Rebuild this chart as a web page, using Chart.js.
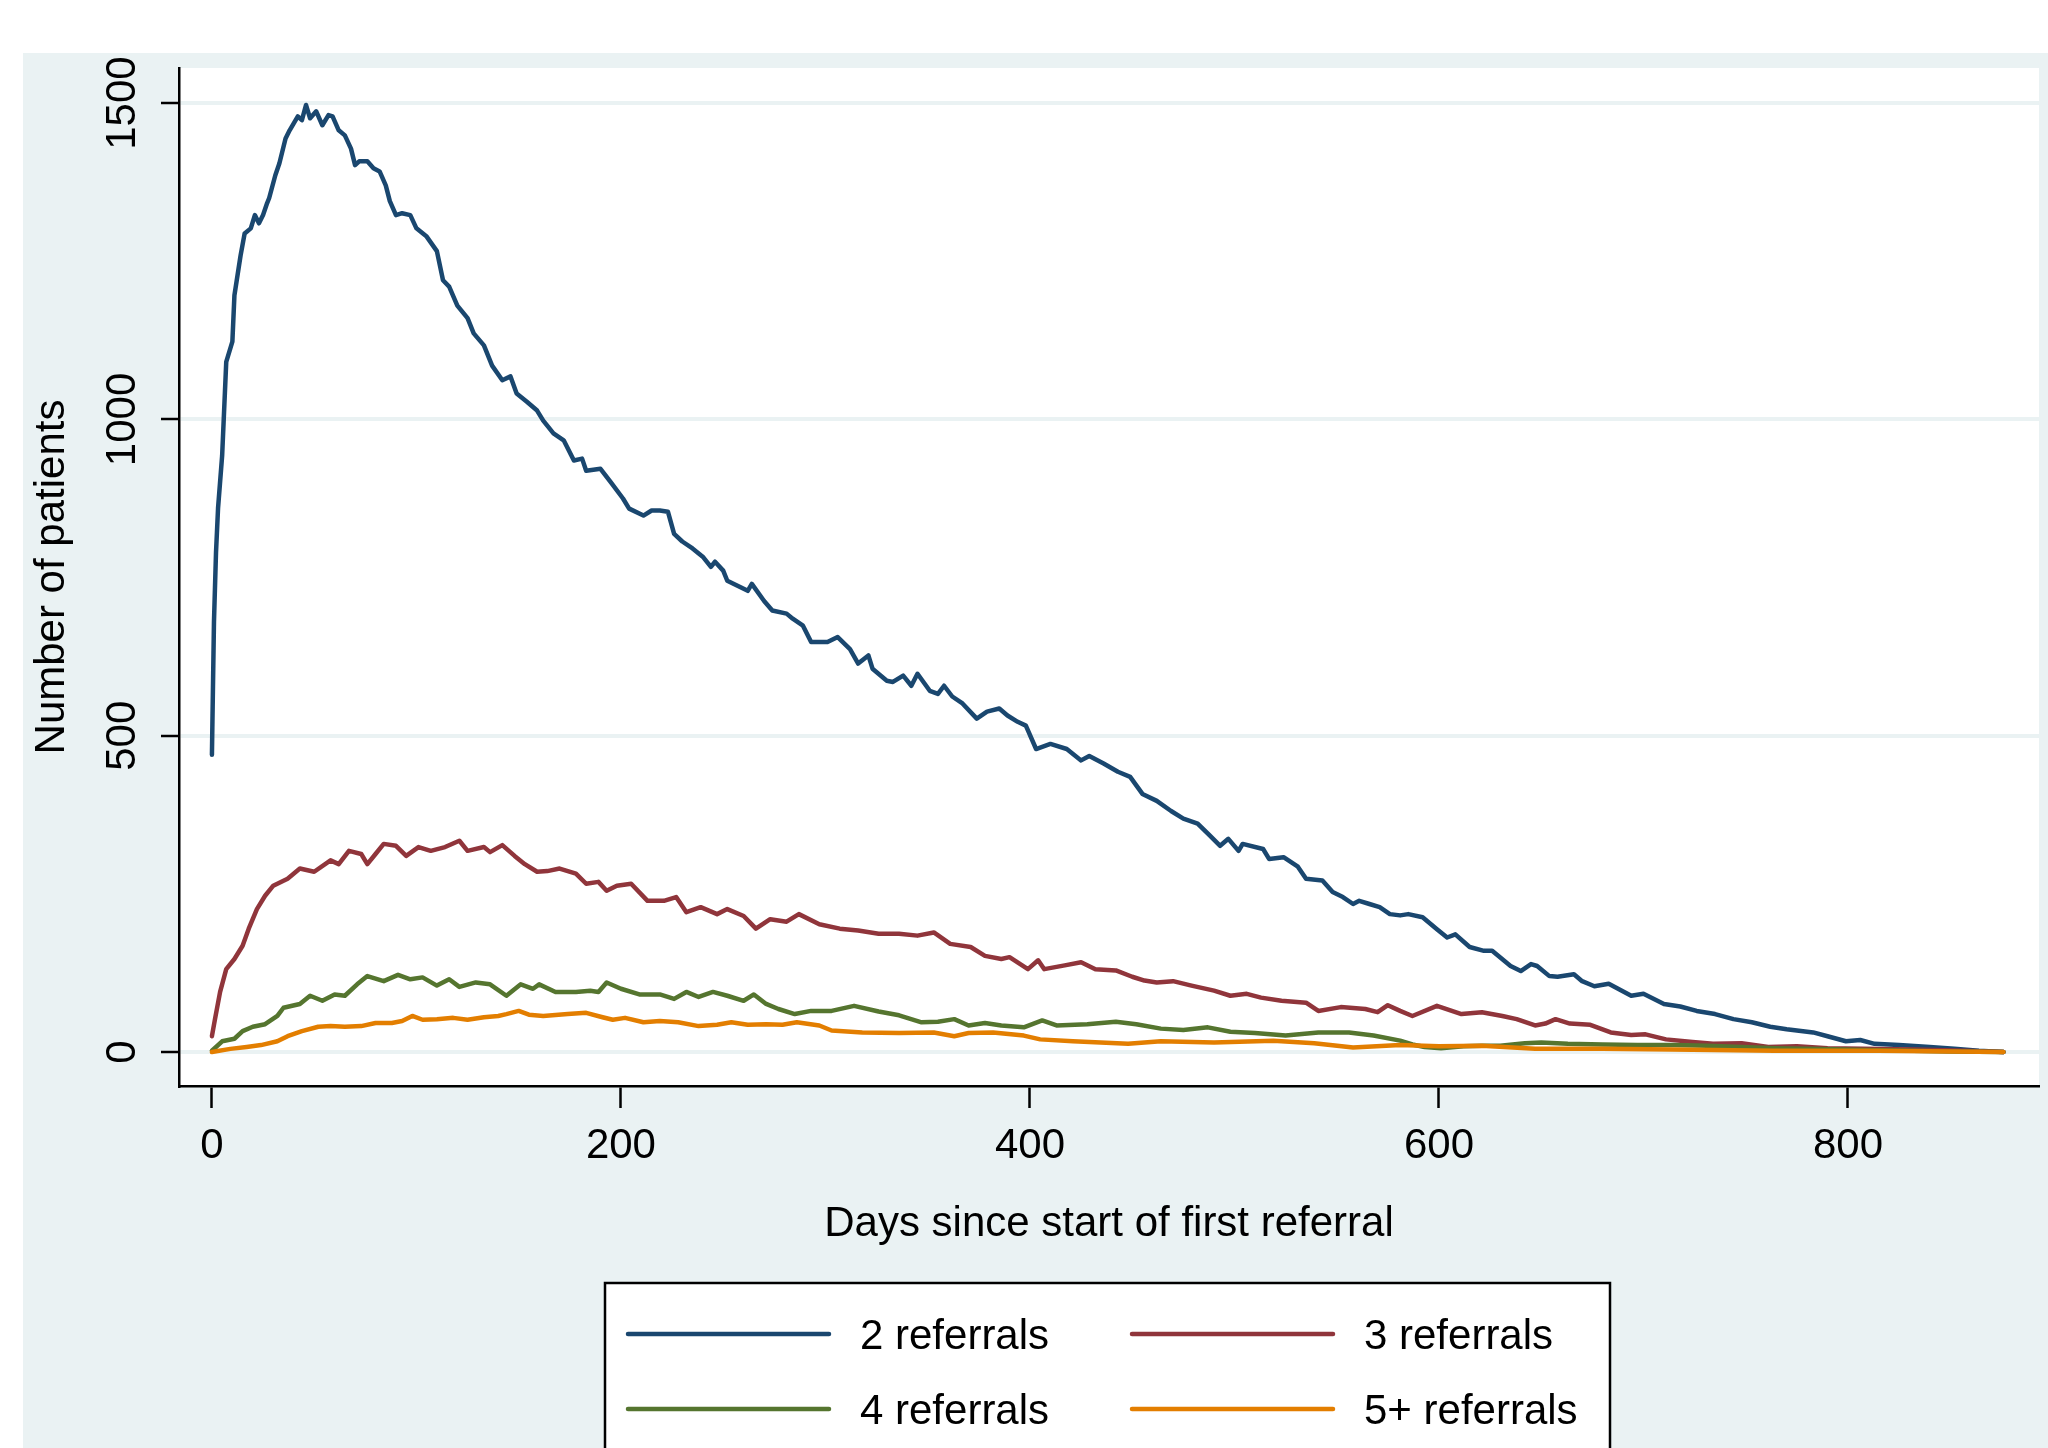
<!DOCTYPE html>
<html><head><meta charset="utf-8">
<script src="https://cdn.jsdelivr.net/npm/chart.js@4/dist/chart.umd.min.js"></script>
<style>html,body{margin:0;padding:0;background:#fff;}canvas{display:block;}</style>
</head><body>
<canvas id="c" width="2048" height="1448"></canvas>
<script>
// ---- data ----
const seriesLabels = ['2 referrals', '3 referrals', '4 referrals', '5+ referrals'];
const xTickValues = [0, 200, 400, 600, 800];
const yTickValues = [0, 500, 1000, 1500];
const xAxisTitle = 'Days since start of first referral';
const yAxisTitle = 'Number of patients';

const days2 = [0,1,2,3,5,7,10,11,14,16,19,21,23,25,27,28,31,33,36,38,42,44,46,48,51,54,57,59,62,65,68,70,72,76,79,82,85,87,90,93,97,100,105,110,113,116,120,125,128,133,137,142,146,149,154,159,162,167,172,177,181,183,190,195,201,204,211,215,219,223,226,230,235,240,244,246,250,252,257,262,264,270,274,281,284,289,293,301,306,312,316,321,323,330,333,338,342,345,351,355,358,362,367,374,379,385,389,394,398,403,410,418,425,429,436,443,449,455,462,469,475,482,488,493,497,502,504,514,517,524,531,535,543,548,553,558,561,566,571,576,581,585,592,599,604,608,615,622,626,635,640,645,648,654,658,666,670,676,683,694,700,710,718,726,735,744,753,762,770,783,790,799,806,813,825,840,852,864,876];
const patients2 = [470,680,790,860,943,1091,1123,1196,1259,1294,1302,1323,1310,1323,1342,1350,1386,1405,1444,1457,1479,1473,1497,1476,1487,1465,1481,1479,1457,1449,1428,1402,1408,1408,1397,1392,1370,1345,1323,1326,1323,1302,1289,1266,1220,1210,1180,1160,1136,1117,1085,1062,1068,1041,1028,1014,998,978,967,935,938,919,922,901,875,859,848,856,856,854,819,807,796,783,767,775,761,745,737,729,740,713,698,693,685,674,648,648,656,637,614,627,606,587,585,595,579,598,571,566,579,562,551,527,538,543,532,522,516,479,487,479,461,468,456,443,435,408,397,381,369,361,342,326,337,318,329,321,305,308,293,274,271,253,245,234,239,234,229,218,216,218,213,194,181,186,166,160,160,136,128,139,136,120,119,123,112,104,108,89,92,76,72,65,60,52,47,40,36,31,25,17,19,13,11,8,5,2,0];

const days3 = [0,1.5,4,7,11,15,18,22,26,30,37,43,50,58,62,67,73,76,80,84,90,95,101,107,114,121,125,133,136,142,148,153,159,164,170,178,183,189,193,198,205,213,221,227,232,239,247,252,260,266,273,281,287,297,307,316,326,336,345,353,361,371,378,386,390,399,404,407,417,425,432,442,450,456,462,470,479,490,498,506,513,523,535,541,552,564,570,575,581,587,599,611,621,631,638,647,652,657,664,674,684,694,701,711,724,734,748,761,775,790,807,832,857,876];
const patients3 = [25,52,95,131,147,168,195,226,247,263,274,290,285,303,297,318,313,297,313,329,326,310,324,318,324,334,318,324,316,327,310,297,285,286,290,282,266,269,255,263,266,239,239,245,221,229,218,226,215,195,210,206,218,202,195,192,187,187,184,189,171,166,152,147,150,131,145,131,137,142,131,129,119,113,110,112,105,97,89,92,86,81,78,65,71,68,63,74,65,57,73,60,63,57,52,42,45,52,45,43,31,27,28,20,16,13,14,8,9,6,5,4,2,0];

const days4 = [0,5,11,15,20,26,32,35,43,48,54,60,65,71,76,84,91,97,103,110,116,121,129,136,144,151,157,160,168,178,185,189,193,200,209,219,226,232,238,245,252,260,265,271,277,285,293,303,314,326,336,347,355,363,370,378,386,397,406,413,428,442,452,464,475,487,498,510,525,541,556,568,581,587,593,601,612,621,630,642,650,663,680,697,715,731,748,764,780,798,815,832,850,876];
const patients4 = [2,17,21,33,40,44,57,70,76,89,81,91,89,107,120,112,122,115,118,105,115,103,110,107,89,107,100,107,95,95,97,95,110,100,91,91,84,95,87,95,89,81,91,76,68,60,65,65,73,64,58,47,48,52,42,46,42,39,50,42,44,48,44,37,35,39,32,30,26,31,31,26,18,12,8,6,9,10,10,14,15,13,12,11,11,10,8,6,5,4,3,2,1,0];

const days5 = [0,9,17,24,32,37,44,52,58,65,73,80,88,93,98,103,110,118,125,133,140,144,150,155,162,174,183,191,196,202,211,219,228,238,247,254,262,271,279,286,297,303,318,336,353,363,370,382,397,405,421,448,464,490,519,539,558,581,600,621,647,680,714,764,815,876];
const patients5 = [0,5,8,11,17,25,33,40,41,40,41,46,46,49,57,51,52,54,51,55,57,60,65,59,57,60,62,55,51,54,47,49,47,41,43,47,43,44,43,47,42,34,31,30,31,25,30,31,26,20,17,13,17,15,18,14,7,11,9,10,5,5,4,2,2,0];

// ---- styling ----
const FONT = '"Liberation Sans", Arial, Helvetica, sans-serif';
const colors = ['#1a476f', '#90353b', '#55752f', '#e37e00'];
const bgColor = '#eaf2f3';

function toPoints(xs, ys) { return xs.map((x, i) => ({x: x, y: ys[i]})); }
const seriesDays = [days2, days3, days4, days5];
const seriesValues = [patients2, patients3, patients4, patients5];

const datasets = seriesLabels.map((lab, i) => ({
  label: lab,
  data: toPoints(seriesDays[i], seriesValues[i]),
  borderColor: colors[i],
  backgroundColor: colors[i],
  borderWidth: 4.5,
  pointRadius: 0,
  fill: false,
  tension: 0,
  order: 4 - i
}));

const bgPlugin = {
  id: 'bg',
  beforeDraw(chart) {
    const {ctx, chartArea: a, width, height} = chart;
    ctx.save();
    ctx.fillStyle = '#ffffff';
    ctx.fillRect(0, 0, width, height);
    ctx.fillStyle = bgColor;
    ctx.fillRect(23, 53, width - 23, height - 53);
    ctx.fillStyle = '#ffffff';
    ctx.fillRect(a.left, a.top, a.right - a.left, a.bottom - a.top);
    ctx.restore();
  }
};

const legendPlugin = {
  id: 'boxLegend',
  afterDraw(chart) {
    const ctx = chart.ctx;
    const box = {left: 605, top: 1283, right: 1610, bottom: 1480};
    const colX = [628, 1132];
    const rowY = [1334, 1409];
    const lineLen = 201;
    const textGap = 232;
    ctx.save();
    ctx.fillStyle = '#ffffff';
    ctx.fillRect(box.left, box.top, box.right - box.left, box.bottom - box.top);
    ctx.strokeStyle = '#000000';
    ctx.lineWidth = 2.5;
    ctx.strokeRect(box.left, box.top, box.right - box.left, box.bottom - box.top);
    chart.data.datasets.forEach((ds, i) => {
      const cx = colX[i % 2];
      const cy = rowY[Math.floor(i / 2)];
      ctx.strokeStyle = ds.borderColor;
      ctx.lineWidth = 4.5;
      ctx.lineCap = 'round';
      ctx.beginPath();
      ctx.moveTo(cx, cy);
      ctx.lineTo(cx + lineLen, cy);
      ctx.stroke();
      ctx.fillStyle = '#000000';
      ctx.font = '42px ' + FONT;
      ctx.textAlign = 'left';
      ctx.textBaseline = 'middle';
      ctx.fillText(ds.label, cx + textGap, cy + 3);
    });
    ctx.restore();
  }
};

new Chart(document.getElementById('c'), {
  type: 'line',
  data: {datasets: datasets},
  plugins: [bgPlugin, legendPlugin],
  options: {
    responsive: false,
    animation: false,
    devicePixelRatio: 1,
    layout: {padding: {left: 0, top: 68, right: 9, bottom: 198}},
    plugins: {legend: {display: false}, tooltip: {enabled: false}},
    elements: {line: {borderJoinStyle: 'round', borderCapStyle: 'round'}},
    scales: {
      x: {
        type: 'linear',
        min: -16.1,
        max: 893.4,
        afterBuildTicks: s => { s.ticks = xTickValues.map(v => ({value: v})); },
        grid: {drawOnChartArea: false, drawTicks: true, tickLength: 22, tickColor: '#000', tickWidth: 2.5},
        border: {display: true, color: '#000', width: 2.5},
        ticks: {padding: 13, color: '#000', font: {family: FONT, size: 42}, maxRotation: 0, minRotation: 0, autoSkip: false, callback: v => String(v)},
        title: {display: true, text: xAxisTitle, color: '#000', font: {family: FONT, size: 42, lineHeight: 1.2}, padding: {top: 0, bottom: 0}},
        afterFit: s => { s.height = 164; }
      },
      y: {
        type: 'linear',
        min: -53.7,
        max: 1555.5,
        afterBuildTicks: s => { s.ticks = yTickValues.map(v => ({value: v})); },
        grid: {color: bgColor, lineWidth: 4, drawTicks: true, tickLength: 18, tickColor: '#000', tickWidth: 2.5},
        border: {display: true, color: '#000', width: 2.5},
        ticks: {padding: -9, crossAlign: 'center', minRotation: 90, maxRotation: 90, color: '#000', font: {family: FONT, size: 42}, callback: v => String(v)},
        title: {display: true, text: yAxisTitle, color: '#000', font: {family: FONT, size: 42, lineHeight: 1.2}, padding: {top: 27, bottom: 0}},
        afterFit: s => { s.width = 179; }
      }
    }
  }
});
</script>
</body></html>
